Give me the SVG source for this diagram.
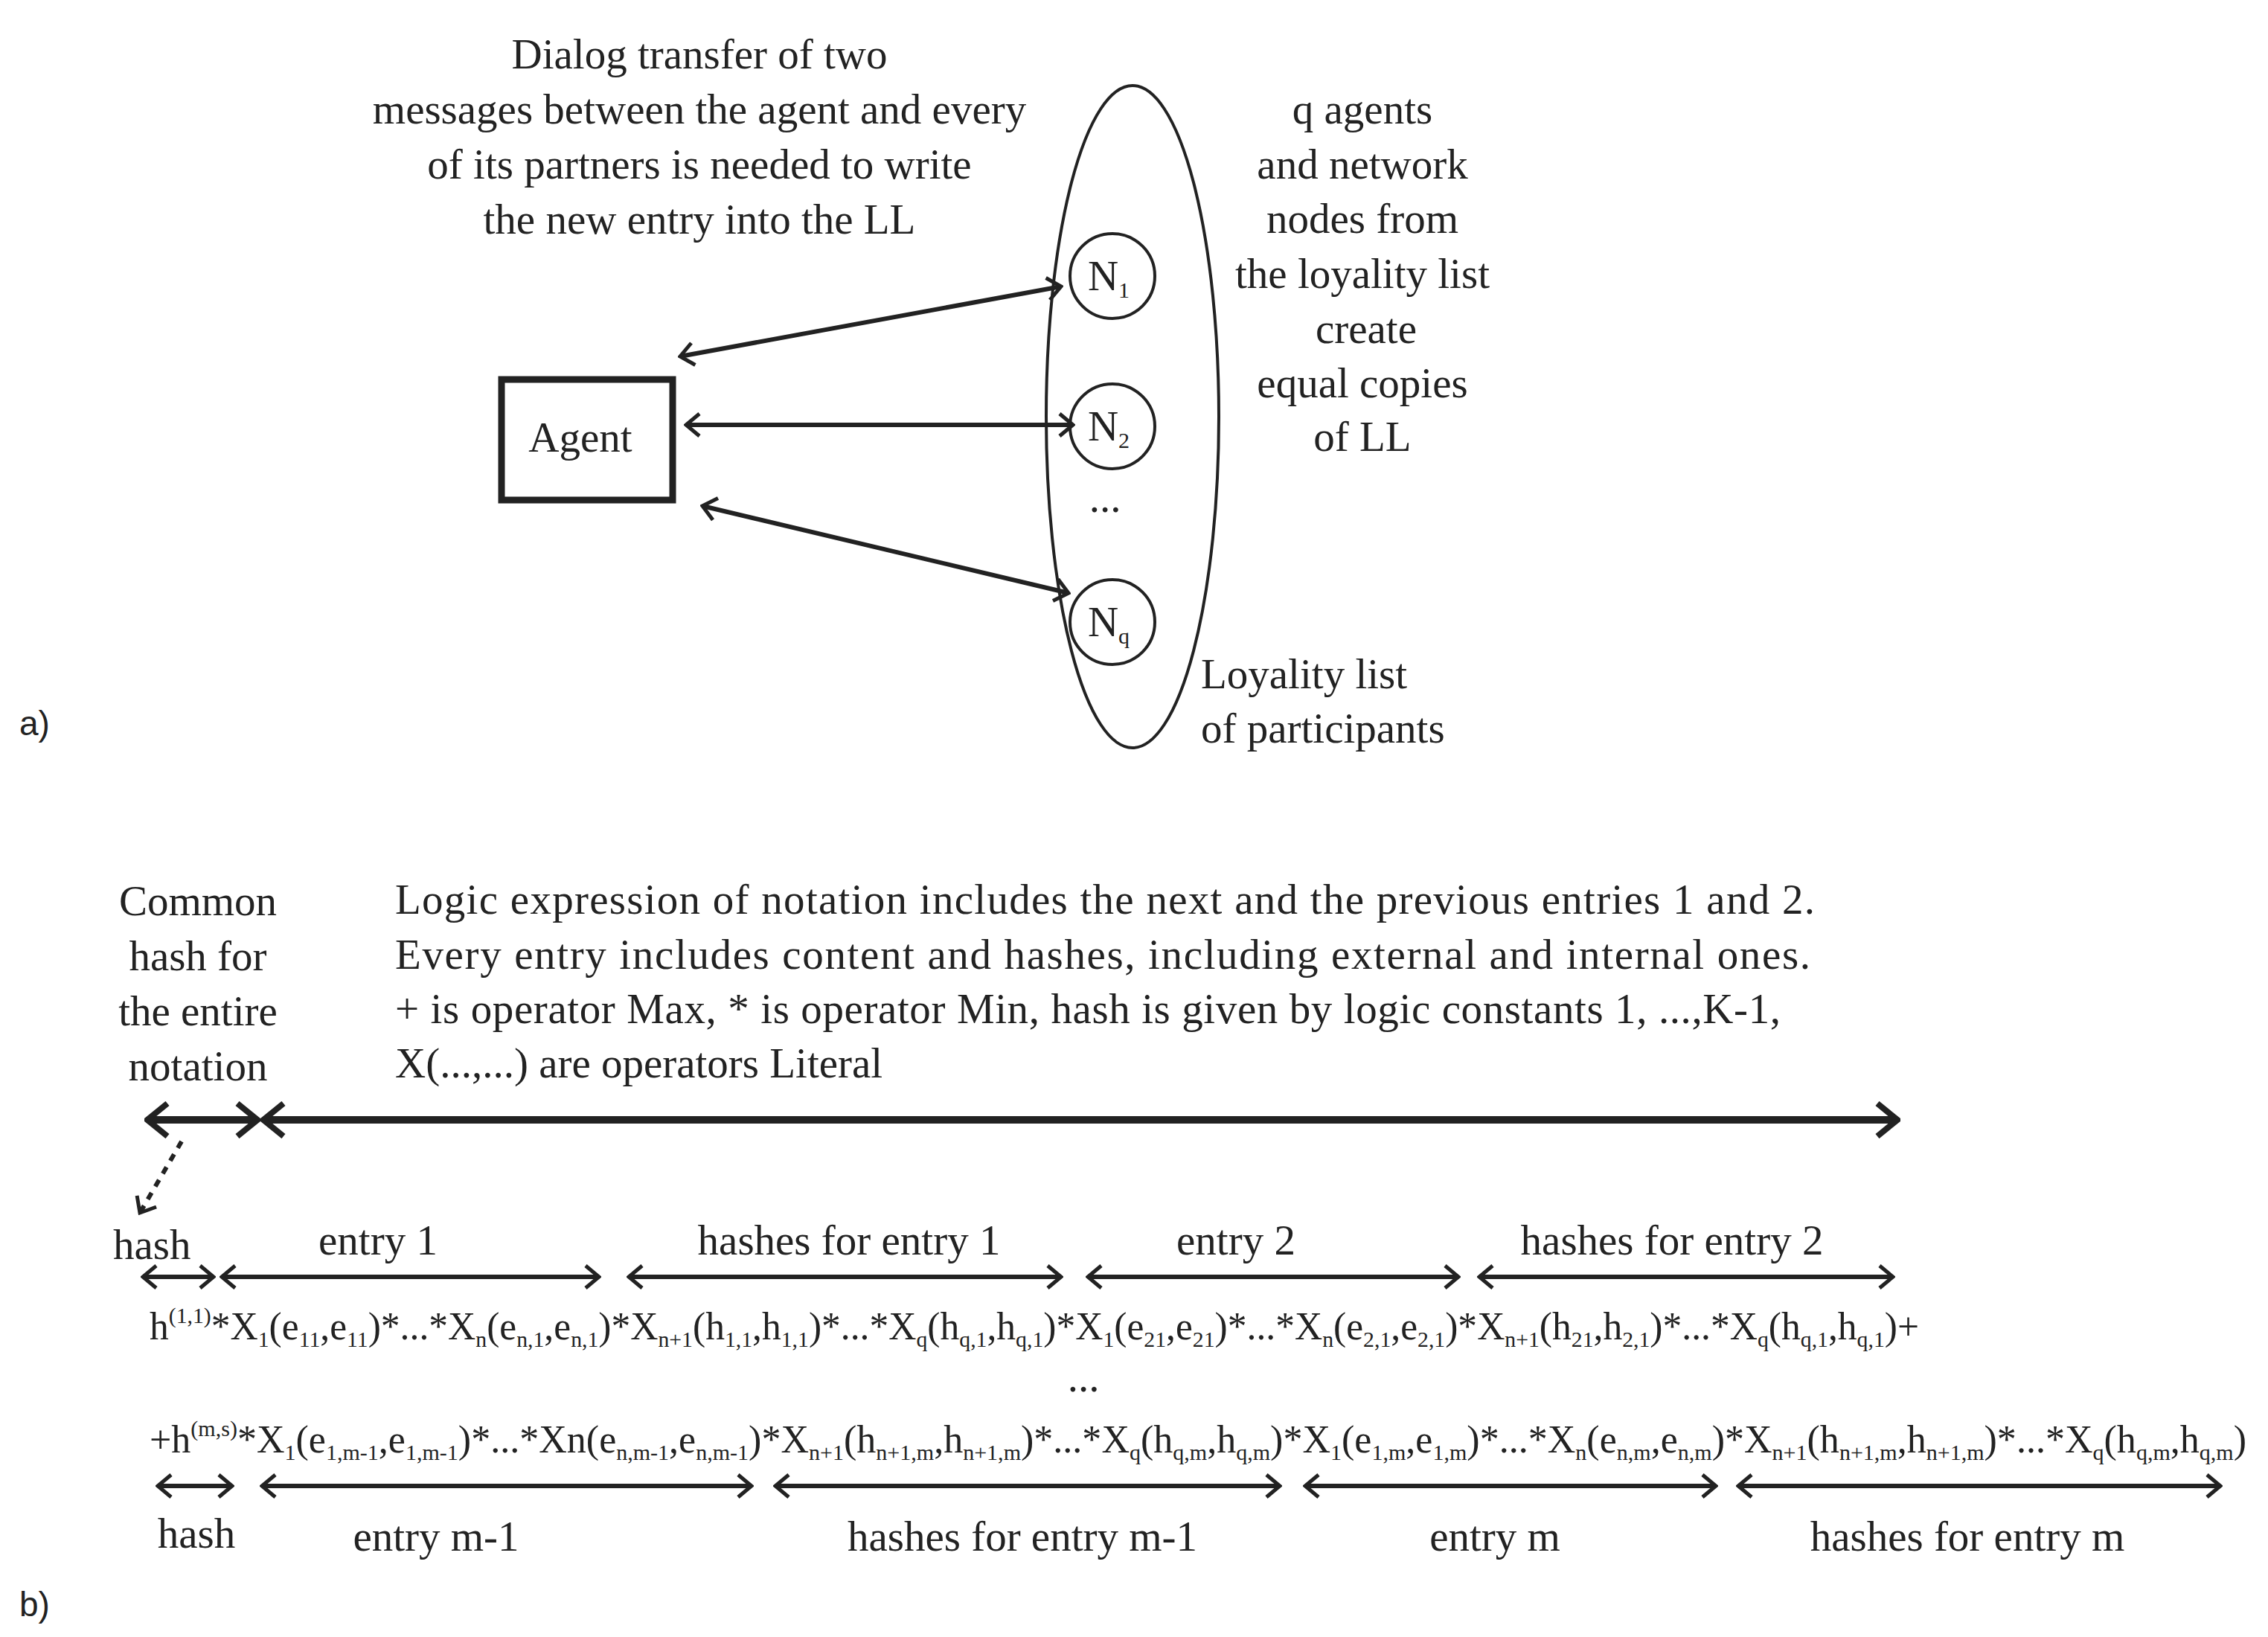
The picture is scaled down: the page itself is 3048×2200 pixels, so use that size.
<svg xmlns="http://www.w3.org/2000/svg" width="3048" height="2200" viewBox="0 0 3048 2200">
<style>
text{font-family:"Liberation Serif","DejaVu Serif",serif;font-size:57px;fill:#222}
.c{text-anchor:middle}
.lab{font-family:"Liberation Sans",Arial,sans-serif;font-size:46px}
.sb{font-size:30px;baseline-shift:-10px}
.sp{font-size:30px;baseline-shift:22px}
.f{font-size:52px}
.ln{stroke:#222;fill:none;stroke-width:6}
.th{stroke:#222;fill:none;stroke-width:10}
</style>
<defs>
<marker id="a" viewBox="0 0 24 36" refX="21" refY="18" markerWidth="24" markerHeight="36" markerUnits="userSpaceOnUse" orient="auto-start-reverse"><path d="M3,3 L21,18 L3,33" fill="none" stroke="#222" stroke-width="5"/></marker>
<marker id="b" viewBox="0 0 34 50" refX="30" refY="25" markerWidth="34" markerHeight="50" markerUnits="userSpaceOnUse" orient="auto-start-reverse"><path d="M3,3 L30,25 L3,47" fill="none" stroke="#222" stroke-width="8"/></marker>
</defs>
<text class="c" x="940" y="92">Dialog transfer of two</text>
<text class="c" x="940" y="166">messages between the agent and every</text>
<text class="c" x="940" y="240">of its partners is needed to write</text>
<text class="c" x="940" y="314">the new entry into the LL</text>
<g id="agent"><rect x="674" y="510" width="230" height="162" fill="none" stroke="#222" stroke-width="9"/><text class="c" x="780" y="607">Agent</text></g>
<g id="list"><ellipse cx="1522" cy="560" rx="116" ry="445" fill="none" stroke="#222" stroke-width="4"/>
<text x="1614" y="925">Loyality list</text><text x="1614" y="998">of participants</text></g>
<g id="n1"><circle cx="1495" cy="371" r="57" fill="#fff" stroke="#222" stroke-width="4"/><text class="c" x="1490" y="390">N<tspan class="sb">1</tspan></text></g>
<g id="n2"><circle cx="1495" cy="573" r="57" fill="#fff" stroke="#222" stroke-width="4"/><text class="c" x="1490" y="592">N<tspan class="sb">2</tspan></text></g>
<text class="c" x="1485" y="688">...</text>
<g id="nq"><circle cx="1495" cy="836" r="57" fill="#fff" stroke="#222" stroke-width="4"/><text class="c" x="1490" y="855">N<tspan class="sb">q</tspan></text></g>
<g id="right"><text class="c" x="1831" y="166">q agents</text><text class="c" x="1831" y="240">and network</text><text class="c" x="1831" y="313">nodes from</text><text class="c" x="1831" y="387">the loyality list</text><text class="c" x="1836" y="461">create</text><text class="c" x="1831" y="534">equal copies</text><text class="c" x="1831" y="606">of LL</text></g>
<text class="lab" x="26" y="988">a)</text>
<g id="connectors">
<line class="ln" x1="914" y1="479" x2="1426" y2="385" marker-start="url(#a)" marker-end="url(#a)"/>
<line class="ln" x1="922" y1="571" x2="1442" y2="571" marker-start="url(#a)" marker-end="url(#a)"/>
<line class="ln" x1="944" y1="680" x2="1436" y2="797" marker-start="url(#a)" marker-end="url(#a)"/>
<line class="th" x1="198" y1="1505" x2="346" y2="1505" marker-start="url(#b)" marker-end="url(#b)"/>
<line class="th" x1="354" y1="1505" x2="2550" y2="1505" marker-start="url(#b)" marker-end="url(#b)"/>
<line class="ln" x1="244" y1="1534" x2="188" y2="1630" stroke-dasharray="10,10" marker-end="url(#a)"/>
<line class="ln" x1="192" y1="1716" x2="287" y2="1716" marker-start="url(#a)" marker-end="url(#a)"/>
<line class="ln" x1="298" y1="1716" x2="805" y2="1716" marker-start="url(#a)" marker-end="url(#a)"/>
<line class="ln" x1="845" y1="1716" x2="1426" y2="1716" marker-start="url(#a)" marker-end="url(#a)"/>
<line class="ln" x1="1462" y1="1716" x2="1960" y2="1716" marker-start="url(#a)" marker-end="url(#a)"/>
<line class="ln" x1="1988" y1="1716" x2="2544" y2="1716" marker-start="url(#a)" marker-end="url(#a)"/>
<line class="ln" x1="212" y1="1997" x2="312" y2="1997" marker-start="url(#a)" marker-end="url(#a)"/>
<line class="ln" x1="352" y1="1997" x2="1010" y2="1997" marker-start="url(#a)" marker-end="url(#a)"/>
<line class="ln" x1="1042" y1="1997" x2="1720" y2="1997" marker-start="url(#a)" marker-end="url(#a)"/>
<line class="ln" x1="1754" y1="1997" x2="2306" y2="1997" marker-start="url(#a)" marker-end="url(#a)"/>
<line class="ln" x1="2336" y1="1997" x2="2984" y2="1997" marker-start="url(#a)" marker-end="url(#a)"/>
</g>
<g id="common"><text class="c" x="266" y="1230">Common</text><text class="c" x="266" y="1304">hash for</text><text class="c" x="266" y="1378">the entire</text><text class="c" x="266" y="1452">notation</text></g>
<g id="para">
<text x="531" y="1228" textLength="1908">Logic expression of notation includes the next and the previous entries 1 and 2.</text>
<text x="531" y="1302" textLength="1902">Every entry includes content and hashes, including external  and internal ones.</text>
<text x="531" y="1375" textLength="1862">+ is operator Max, * is operator Min, hash is given by logic constants 1, ...,K-1,</text>
<text x="531" y="1448">X(...,...) are  operators Literal</text>
</g>
<text x="152" y="1692">hash</text>
<text class="c" x="508" y="1686">entry  1</text>
<text class="c" x="1141" y="1686">hashes for entry 1</text>
<text class="c" x="1661" y="1686">entry 2</text>
<text class="c" x="2247" y="1686">hashes for entry 2</text>
<text class="f" x="201" y="1800" textLength="2378" lengthAdjust="spacingAndGlyphs">h<tspan class="sp">(1,1)</tspan>*X<tspan class="sb">1</tspan>(e<tspan class="sb">11</tspan>,e<tspan class="sb">11</tspan>)*...*X<tspan class="sb">n</tspan>(e<tspan class="sb">n,1</tspan>,e<tspan class="sb">n,1</tspan>)*X<tspan class="sb">n+1</tspan>(h<tspan class="sb">1,1</tspan>,h<tspan class="sb">1,1</tspan>)*...*X<tspan class="sb">q</tspan>(h<tspan class="sb">q,1</tspan>,h<tspan class="sb">q,1</tspan>)*X<tspan class="sb">1</tspan>(e<tspan class="sb">21</tspan>,e<tspan class="sb">21</tspan>)*...*X<tspan class="sb">n</tspan>(e<tspan class="sb">2,1</tspan>,e<tspan class="sb">2,1</tspan>)*X<tspan class="sb">n+1</tspan>(h<tspan class="sb">21</tspan>,h<tspan class="sb">2,1</tspan>)*...*X<tspan class="sb">q</tspan>(h<tspan class="sb">q,1</tspan>,h<tspan class="sb">q,1</tspan>)+</text>
<text class="c" x="1456" y="1870">...</text>
<text class="f" x="201" y="1952" textLength="2818" lengthAdjust="spacingAndGlyphs">+h<tspan class="sp">(m,s)</tspan>*X<tspan class="sb">1</tspan>(e<tspan class="sb">1,m-1</tspan>,e<tspan class="sb">1,m-1</tspan>)*...*Xn(e<tspan class="sb">n,m-1</tspan>,e<tspan class="sb">n,m-1</tspan>)*X<tspan class="sb">n+1</tspan>(h<tspan class="sb">n+1,m</tspan>,h<tspan class="sb">n+1,m</tspan>)*...*X<tspan class="sb">q</tspan>(h<tspan class="sb">q,m</tspan>,h<tspan class="sb">q,m</tspan>)*X<tspan class="sb">1</tspan>(e<tspan class="sb">1,m</tspan>,e<tspan class="sb">1,m</tspan>)*...*X<tspan class="sb">n</tspan>(e<tspan class="sb">n,m</tspan>,e<tspan class="sb">n,m</tspan>)*X<tspan class="sb">n+1</tspan>(h<tspan class="sb">n+1,m</tspan>,h<tspan class="sb">n+1,m</tspan>)*...*X<tspan class="sb">q</tspan>(h<tspan class="sb">q,m</tspan>,h<tspan class="sb">q,m</tspan>)</text>
<text class="c" x="264" y="2080">hash</text>
<text class="c" x="586" y="2084">entry m-1</text>
<text class="c" x="1374" y="2084">hashes for entry m-1</text>
<text class="c" x="2009" y="2084">entry  m</text>
<text class="c" x="2644" y="2084">hashes for  entry m</text>
<text class="lab" x="26" y="2172">b)</text>
</svg>
